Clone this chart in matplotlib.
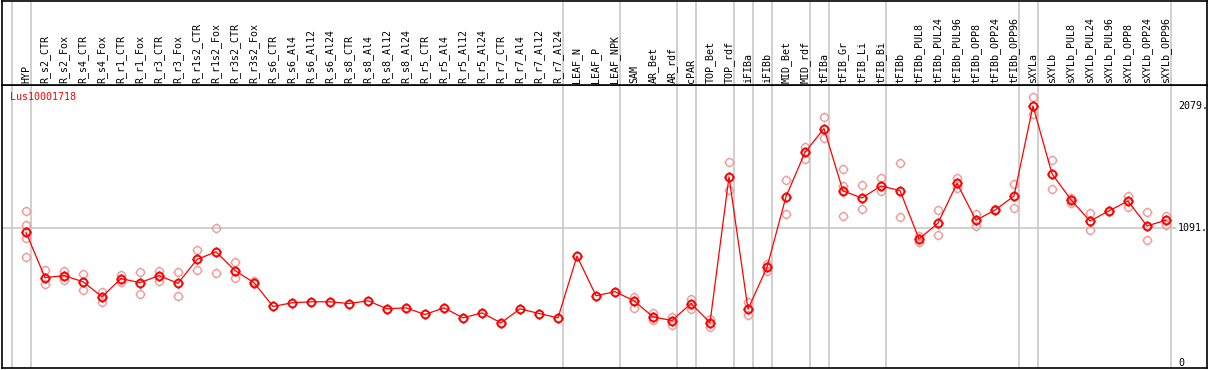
import matplotlib
matplotlib.use("Agg")
import matplotlib.pyplot as plt
import numpy as np
from matplotlib.path import Path

# Sample names (columns), in order
samples = [
    "HYP", "R_s2_CTR", "R_s2_Fox", "R_s4_CTR", "R_s4_Fox", "R_r1_CTR", "R_r1_Fox",
    "R_r3_CTR", "R_r3_Fox", "R_r1s2_CTR", "R_r1s2_Fox", "R_r3s2_CTR", "R_r3s2_Fox",
    "R_s6_CTR", "R_s6_Al4", "R_s6_Al12", "R_s6_Al24", "R_s8_CTR", "R_s8_Al4",
    "R_s8_Al12", "R_s8_Al24", "R_r5_CTR", "R_r5_Al4", "R_r5_Al12", "R_r5_Al24",
    "R_r7_CTR", "R_r7_Al4", "R_r7_Al12", "R_r7_Al24", "LEAF_N", "LEAF_P", "LEAF_NPK",
    "SAM", "AR_Bet", "AR_rdf", "cPAR", "TOP_Bet", "TOP_rdf", "iFIBa", "iFIBb",
    "MID_Bet", "MID_rdf", "tFIBa", "tFIB_Gr", "tFIB_Li", "tFIB_Bi", "tFIBb",
    "tFIBb_PUL8", "tFIBb_PUL24", "tFIBb_PUL96", "tFIBb_OPP8", "tFIBb_OPP24",
    "tFIBb_OPP96", "sXYLa", "sXYLb", "sXYLb_PUL8", "sXYLb_PUL24", "sXYLb_PUL96",
    "sXYLb_OPP8", "sXYLb_OPP24", "sXYLb_OPP96",
]

# mean expression per sample
means = [
    1055, 688, 704, 655, 533, 680, 647, 704, 642, 835, 897, 745, 647,
    454, 484, 492, 492, 478, 500, 435, 443, 389, 443, 362, 402,
    321, 435, 397, 362, 862, 541, 574,
    500, 370, 340, 478, 323, 1504, 432, 772,
    1344, 1703, 1896, 1390, 1333, 1431, 1393,
    1001, 1129, 1452, 1153, 1235, 1349,
    2079, 1529, 1319, 1146, 1229, 1308, 1107, 1153,
]

# individual replicates (only those visible apart from the mean)
replicates = [
    [1229, 1115, 1011, 851], [748, 639], [740, 666], [715, 590], [571, 489],
    [707, 652], [737, 558], [740, 660], [731, 541], [911, 753], [1088, 723],
    [813, 688], [660], [], [], [], [], [], [], [], [], [], [], [], [],
    [], [], [], [], [], [], [],
    [530, 443], [399, 345], [372, 307], [513, 435], [356, 291], [1621, 1401],
    [487, 383], [797, 740],
    [1482, 1202], [1746, 1648], [1989, 1823], [1570, 1428, 1189], [1439, 1246],
    [1493, 1393], [1613, 1178],
    [1028, 977], [1235, 1031], [1496, 1411], [1205, 1109], [1240], [1447, 1251],
    [2149, 2013], [1643, 1409], [1336, 1289], [1211, 1074], [1225], [1352, 1262],
    [1219, 990], [1191, 1118],
]

# group separators sit just right of these sample indices
group_ends = [-1, 0, 28, 31, 34, 35, 37, 38, 39, 41, 42, 45, 52, 53, 60]

gene = "Lus10001718"
ytick_vals = [0, 1091, 2079]
ytick_text = ["0", "1091.", "2079."]

MONO = "DejaVu Sans Mono"
RED = "#ff0000"
PINK = "#f09a9a"
GRID = "#c4c4c4"

# circle with four little ticks, like the original pixel marker
_circ = Path.unit_circle()
_ticks = []
for ang in (0, 90, 180, 270):
    a = np.deg2rad(ang)
    _ticks.append(Path([(np.cos(a), np.sin(a)), (1.3 * np.cos(a), 1.3 * np.sin(a))],
                       [Path.MOVETO, Path.LINETO]))
MARK = Path.make_compound_path(_circ, *_ticks)

W, H = 1209, 370
fig = plt.figure(figsize=(W / 100, H / 100), dpi=100)
fig.patch.set_facecolor("white")

left_px, right_px = 1.5, 1206.5
plot_top, plot_bot = 85, 368
ax = fig.add_axes([left_px / W, (H - plot_bot) / H,
                   (right_px - left_px) / W, (plot_bot - plot_top) / H])
hdr = fig.add_axes([left_px / W, (H - plot_top) / H,
                    (right_px - left_px) / W, (plot_top - 0.7) / H], sharex=ax)

x = np.arange(len(samples))
# pixel x = 26 + 19 * i
ax.set_xlim((left_px - 26) / 19, (right_px - 26) / 19)
# pixel y = 362.5 - 0.1234 * v
ax.set_ylim((362.5 - plot_bot) / 0.1234, (362.5 - plot_top) / 0.1234)
hdr.set_ylim(0, 1)

for a in (ax, hdr):
    a.set_xticks([])
    a.set_yticks([])
    for s in a.spines.values():
        s.set_color("black")
        s.set_linewidth(1.2)

sep = [e + 4.7 / 19 for e in group_ends]
for a in (ax, hdr):
    a.vlines(sep, 0, 1, transform=a.get_xaxis_transform(), color=GRID, lw=1.1, zorder=1)

ax.hlines(1091, (left_px - 26) / 19, (1176 - 26) / 19, color=GRID, lw=1.1, zorder=1)

for i, reps in enumerate(replicates):
    if reps:
        ax.plot([i] * len(reps), reps, linestyle="none", marker=MARK, markersize=7.2,
                markerfacecolor="none", markeredgecolor=PINK, markeredgewidth=1.0, zorder=2)

ax.plot(x, means, color=RED, lw=0.9, marker=MARK, markersize=7.2,
        markerfacecolor="none", markeredgecolor=RED, markeredgewidth=1.4, zorder=3)

for i, name in enumerate(samples):
    hdr.text(i, 2 / 84.3, name, rotation=90, ha="center", va="bottom",
             fontsize=7.2, family=MONO, color="black")

ax.text((10 - 26) / 19, (362.5 - 97) / 0.1234, gene, color=RED, fontsize=7.2,
        family=MONO, ha="left", va="center")

for v, t in zip(ytick_vals, ytick_text):
    ax.text((1178 - 26) / 19, v, t, fontsize=7.2, family=MONO, ha="left", va="center")

fig.savefig("out.png", dpi=100)
